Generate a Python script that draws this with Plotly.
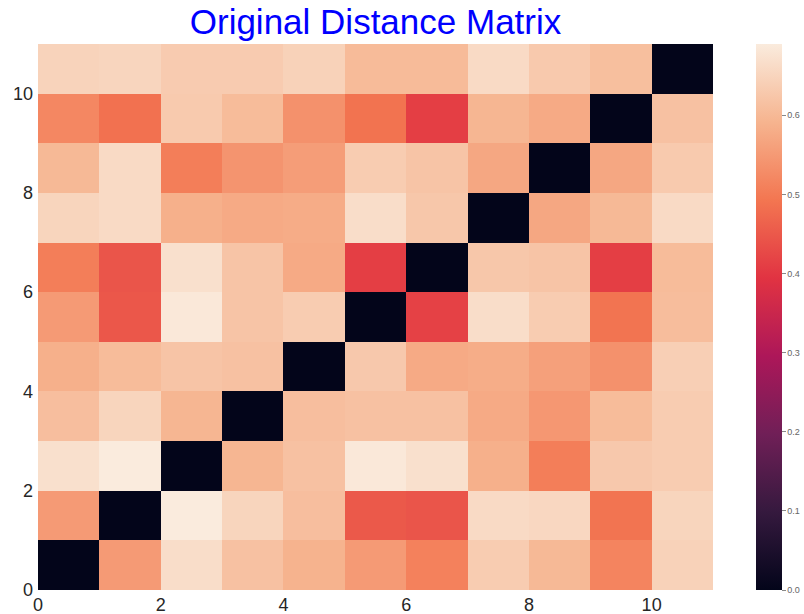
import plotly.graph_objects as go

# Pairwise distances, one list per row (row 0 is drawn at the bottom)
row_00 = [0.000, 0.550, 0.665, 0.615, 0.590, 0.550, 0.510, 0.635, 0.600, 0.515, 0.645]
row_01 = [0.550, 0.000, 0.690, 0.650, 0.610, 0.450, 0.445, 0.660, 0.655, 0.490, 0.650]
row_02 = [0.670, 0.690, 0.000, 0.595, 0.615, 0.685, 0.670, 0.585, 0.505, 0.628, 0.635]
row_03 = [0.610, 0.650, 0.595, 0.000, 0.610, 0.615, 0.615, 0.575, 0.545, 0.605, 0.635]
row_04 = [0.585, 0.605, 0.620, 0.615, 0.000, 0.628, 0.575, 0.580, 0.560, 0.535, 0.640]
row_05 = [0.550, 0.447, 0.685, 0.620, 0.635, 0.000, 0.415, 0.665, 0.635, 0.490, 0.608]
row_06 = [0.505, 0.445, 0.670, 0.620, 0.575, 0.410, 0.000, 0.625, 0.620, 0.410, 0.605]
row_07 = [0.650, 0.660, 0.585, 0.575, 0.578, 0.665, 0.625, 0.000, 0.570, 0.600, 0.660]
row_08 = [0.600, 0.660, 0.505, 0.540, 0.555, 0.635, 0.620, 0.570, 0.000, 0.570, 0.630]
row_09 = [0.520, 0.485, 0.630, 0.605, 0.535, 0.488, 0.410, 0.595, 0.575, 0.000, 0.615]
row_10 = [0.647, 0.651, 0.633, 0.633, 0.645, 0.604, 0.604, 0.660, 0.629, 0.611, 0.000]

matrix = [row_00, row_01, row_02, row_03, row_04, row_05,
          row_06, row_07, row_08, row_09, row_10]

cell_centers = [i + 0.5 for i in range(11)]
axis_ticks = [0, 2, 4, 6, 8, 10]
cbar_ticks = [0.0, 0.1, 0.2, 0.3, 0.4, 0.5, 0.6]

# seaborn "rocket" colormap
rocket = [
    [0.0, "#03051a"],
    [1 / 7, "#35193e"],
    [2 / 7, "#701f57"],
    [3 / 7, "#ad1759"],
    [4 / 7, "#e13342"],
    [5 / 7, "#f37651"],
    [6 / 7, "#f6b48f"],
    [1.0, "#faebdd"],
]

fig = go.Figure(
    go.Heatmap(
        z=matrix,
        x=cell_centers,
        y=cell_centers,
        colorscale=rocket,
        zmin=0.0,
        zmax=0.69,
        xgap=0,
        ygap=0,
        colorbar=dict(
            thickness=26,
            len=1.0,
            lenmode="fraction",
            y=0.5,
            yanchor="middle",
            ypad=0,
            x=1.0637,
            xanchor="left",
            xpad=0,
            outlinewidth=0,
            tickvals=cbar_ticks,
            ticktext=[f"{v:.1f}" for v in cbar_ticks],
            ticks="outside",
            ticklen=4,
            tickwidth=1,
            tickcolor="#888888",
            tickfont=dict(family="Liberation Sans, Arial, sans-serif", size=9, color="#666666"),
        ),
    )
)

fig.update_layout(
    width=804,
    height=614,
    margin=dict(l=38, r=91, t=44, b=24, autoexpand=False),
    paper_bgcolor="white",
    plot_bgcolor="white",
    title=dict(
        text="Original Distance Matrix",
        x=(38 + 713) / 2 / 804,
        xanchor="center",
        y=1 - 22 / 614,
        yanchor="middle",
        font=dict(family="Liberation Sans, Arial, sans-serif", size=35, color="#0000ff"),
    ),
)

tick_font = dict(family="Liberation Sans, Arial, sans-serif", size=18, color="#262626")

fig.update_xaxes(
    range=[0, 11],
    tickvals=axis_ticks,
    ticktext=[str(v) for v in axis_ticks],
    tickfont=tick_font,
    showgrid=False,
    zeroline=False,
    showline=False,
    ticks="",
    ticklabelstandoff=2,
)
fig.update_yaxes(
    range=[0, 11],
    tickvals=axis_ticks,
    ticktext=[str(v) for v in axis_ticks],
    tickfont=tick_font,
    showgrid=False,
    zeroline=False,
    showline=False,
    ticks="",
    ticklabelstandoff=4,
)

fig.write_html("out.html")
